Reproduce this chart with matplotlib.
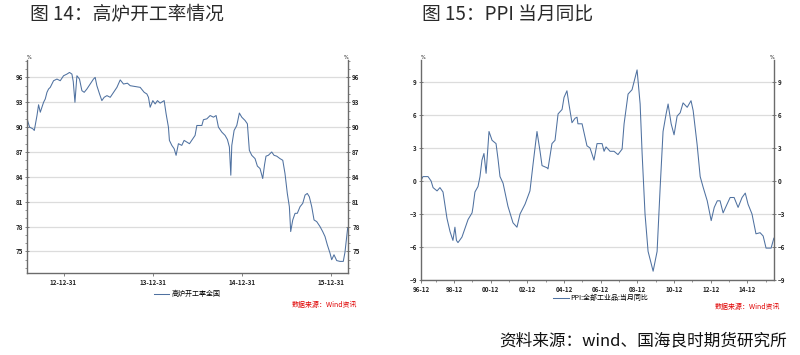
import matplotlib
matplotlib.use('Agg')
import matplotlib.pyplot as plt
from matplotlib.ticker import FixedLocator, MultipleLocator

plt.rcParams['font.family'] = ['Noto Sans CJK SC', 'DejaVu Sans']

# ---------------- data: blast furnace utilisation (weekly, decimal year) ----------------
bf_year = [2012.590, 2012.596, 2012.619, 2012.655, 2012.672, 2012.702, 2012.720, 2012.739,
           2012.758, 2012.776, 2012.795, 2012.814, 2012.832, 2012.851, 2012.888, 2012.926,
           2012.963, 2013.000, 2013.038, 2013.067, 2013.094, 2013.109, 2013.128, 2013.150,
           2013.179, 2013.206, 2013.232, 2013.262, 2013.299, 2013.336, 2013.355, 2013.374,
           2013.404, 2013.430, 2013.456, 2013.487, 2013.524, 2013.561, 2013.599, 2013.636,
           2013.673, 2013.717, 2013.748, 2013.804, 2013.860, 2013.905, 2013.935, 2013.953,
           2013.972, 2014.002, 2014.028, 2014.054, 2014.084, 2014.129, 2014.151, 2014.177,
           2014.188, 2014.215, 2014.241, 2014.263, 2014.289, 2014.327, 2014.353, 2014.383,
           2014.413, 2014.451, 2014.476, 2014.496, 2014.552, 2014.570, 2014.608, 2014.645,
           2014.682, 2014.712, 2014.738, 2014.776, 2014.813, 2014.839, 2014.861, 2014.877,
           2014.888, 2014.914, 2014.944, 2014.973, 2015.000, 2015.037, 2015.063, 2015.085,
           2015.112, 2015.149, 2015.175, 2015.205, 2015.235, 2015.256, 2015.272, 2015.298,
           2015.336, 2015.362, 2015.392, 2015.429, 2015.460, 2015.485, 2015.511, 2015.534,
           2015.549, 2015.572, 2015.598, 2015.623, 2015.654, 2015.684, 2015.710, 2015.735,
           2015.758, 2015.785, 2015.811, 2015.841, 2015.878, 2015.908, 2015.934, 2015.960,
           2015.990, 2016.009, 2016.035, 2016.065, 2016.102, 2016.139, 2016.158, 2016.177,
           2016.188]
bf_value = [92.0, 90.8, 90.0, 89.8, 89.6, 91.4, 92.7, 91.8,
            92.4, 93.0, 93.4, 94.2, 94.6, 94.8, 95.6, 95.8,
            95.6, 96.2, 96.4, 96.6, 96.4, 95.5, 93.0, 96.2,
            95.8, 94.4, 94.2, 94.6, 95.2, 95.8, 96.0, 95.0,
            94.0, 93.2, 93.6, 93.8, 93.6, 94.2, 94.8, 95.7,
            95.2, 95.3, 95.0, 94.9, 94.8, 94.2, 94.0, 93.6,
            92.4, 93.2, 92.8, 93.2, 92.9, 93.2, 91.6, 90.0,
            88.4, 87.8, 87.4, 86.6, 88.0, 87.8, 88.4, 88.2,
            88.0, 88.6, 89.0, 90.2, 90.2, 90.9, 91.0, 91.4,
            91.2, 91.4, 90.0, 89.4, 89.0, 88.5, 87.6, 84.2,
            87.8, 89.6, 90.2, 91.7, 91.2, 90.8, 90.4, 87.2,
            86.6, 86.2, 85.3, 85.0, 83.8, 85.5, 86.5, 86.6,
            87.0, 86.6, 86.5, 86.2, 86.0, 84.4, 82.0, 80.4,
            77.4, 78.8, 79.6, 79.6, 80.4, 80.8, 81.8, 82.0,
            81.6, 80.4, 78.8, 78.6, 78.0, 77.4, 76.8, 75.8,
            74.8, 74.0, 74.6, 73.9, 73.8, 73.8, 74.9, 76.7,
            77.8]
bf_xticks = [2013.0, 2014.0, 2015.0, 2016.0]
bf_xlabels = ['12-12-31', '13-12-31', '14-12-31', '15-12-31']
bf_yticks = [75, 78, 81, 84, 87, 90, 93, 96]
bf_legend = '高炉开工率全国'

# ---------------- data: PPI yoy (months since 1996-12) ----------------
ppi_month = [2.2, 3.7, 5.0, 7.0, 9.0, 10.3, 12.9, 14.8, 16.8, 18.1, 19.4, 21.4, 23.3, 24.6,
             25.6, 26.6, 29.2, 31.2, 33.2, 35.8, 36.4, 37.7, 39.7, 41.0, 42.3, 43.6, 45.0,
             46.9, 48.9, 51.5, 52.8, 54.1, 56.1, 59.3, 62.6, 65.2, 67.2, 70.5, 73.7, 75.7,
             78.3, 80.3, 81.6, 84.9, 85.5, 88.1, 90.1, 92.1, 94.7, 96.0, 97.9, 99.2, 101.2,
             103.2, 104.5, 105.1, 107.8, 111.0, 113.0, 115.6, 117.6, 120.9, 122.2, 123.5,
             124.8, 126.1, 128.7, 131.3, 134.0, 135.3, 137.9, 140.5, 143.8, 145.8, 147.1,
             149.0, 151.0, 154.3, 156.9, 158.9, 160.8, 162.8, 164.1, 166.1, 168.0, 170.0,
             172.0, 173.9, 176.6, 179.1, 180.5, 183.1, 185.1, 187.1, 189.7, 192.3, 194.3,
             196.3, 198.1, 200.1, 202.7, 204.7, 207.3, 209.9, 212.5, 214.6, 216.4, 219.0,
             221.6, 224.3, 226.3, 228.2, 231.5, 233.3]
ppi_value = [0.0, 0.4, 0.4, 0.4, 0.0, -0.6, -0.9, -0.6, -1.0, -2.2, -3.4, -4.6, -5.4, -4.2,
             -5.4, -5.6, -5.1, -4.3, -3.5, -2.9, -2.4, -1.0, -0.5, 0.4, 1.9, 2.5, 0.7,
             4.5, 3.7, 3.4, 2.0, 0.4, -0.2, -2.3, -3.8, -4.2, -3.0, -2.1, -0.9, 1.5,
             4.5, 2.7, 1.4, 1.2, 1.1, 3.4, 3.7, 6.1, 6.5, 7.6, 8.2, 7.0, 5.3,
             5.7, 5.8, 5.2, 5.2, 3.2, 3.0, 1.9, 3.4, 3.4, 2.7, 3.1,
             2.9, 2.7, 2.7, 2.4, 2.9, 5.2, 7.9, 8.3, 10.1, 7.0, 2.5,
             -3.0, -6.4, -8.2, -6.4, -0.6, 4.5, 6.1, 7.0, 5.2, 4.2, 5.9,
             6.2, 7.1, 6.7, 7.3, 6.4, 3.3, 0.4, -0.6, -1.8, -3.6, -2.4,
             -1.8, -1.8, -2.9, -2.1, -1.5, -1.5, -2.4, -1.5, -1.1, -2.1, -3.0,
             -4.8, -4.7, -5.0, -6.1, -6.1, -5.2]
ppi_xticks = [2.4, 24, 48, 72, 96, 120, 144, 168, 192, 216]
ppi_xlabels = ['96-12', '98-12', '00-12', '02-12', '04-12', '06-12', '08-12', '10-12',
               '12-12', '14-12']
ppi_yticks = [-9, -6, -3, 0, 3, 6, 9]
ppi_legend = 'PPI:全部工业品:当月同比'

LINE = '#4f71a0'
SPINE = '#6b6b6b'
GRID = '#dcdcdc'

fig = plt.figure(figsize=(8, 3.55), dpi=100)

def style(ax, yticks, minor=None):
    ax.spines['top'].set_visible(False)
    for s in ['left', 'right', 'bottom']:
        ax.spines[s].set_color(SPINE)
        ax.spines[s].set_linewidth(1.0)
    ax.yaxis.set_major_locator(FixedLocator(yticks))
    if minor:
        ax.yaxis.set_minor_locator(MultipleLocator(minor))
    ax.grid(axis='y', color=GRID, linewidth=0.9)
    ax.set_axisbelow(True)
    ax.tick_params(axis='y', which='major', left=True, right=True, labelleft=True,
                   labelright=True, direction='inout', length=3, width=0.6,
                   color=SPINE, labelsize=4.5, pad=1.5)
    ax.tick_params(axis='y', which='minor', left=True, right=True, direction='out',
                   length=1.5, width=0.5, color=SPINE)
    ax.tick_params(axis='x', which='major', direction='out', length=2.5, width=0.6,
                   color=SPINE, labelsize=4.5, pad=2)
    ax.tick_params(axis='x', which='minor', direction='out', length=1.5, width=0.5,
                   color=SPINE)
    for lab in ax.get_xticklabels() + ax.get_yticklabels():
        lab.set_fontweight('bold')
        lab.set_color('#222222')

# ---------------- left chart ----------------
ax1 = fig.add_axes([27 / 800, 1 - 273 / 355, 321 / 800, 213 / 355])
ax1.plot(bf_year, bf_value, color=LINE, linewidth=0.75, label=bf_legend)
ax1.set_xlim(2012.59, 2016.192)
ax1.set_ylim(72.4, 98.1)
ax1.set_xticks(bf_xticks)
ax1.set_xticklabels(bf_xlabels)
style(ax1, bf_yticks, minor=1)
ax1.text(0.0, 1.0, '%', transform=ax1.transAxes, fontsize=3.5, ha='left', va='bottom',
         family='DejaVu Sans')
ax1.text(1.0, 1.0, '%', transform=ax1.transAxes, fontsize=3.5, ha='right', va='bottom',
         family='DejaVu Sans')
ax1.legend(loc='center', bbox_to_anchor=(187 / 800, 1 - 294 / 355),
           bbox_transform=fig.transFigure, frameon=False, fontsize=5,
           handlelength=2.2, handletextpad=0.3)

# ---------------- right chart ----------------
ax2 = fig.add_axes([421 / 800, 1 - 280 / 355, 353 / 800, 220 / 355])
ax2.plot(ppi_month, ppi_value, color=LINE, linewidth=0.75, label=ppi_legend)
ax2.set_xlim(2.4, 233.4)
ax2.set_ylim(-9, 11)
ax2.set_xticks(ppi_xticks)
ax2.set_xticklabels(ppi_xlabels)
ax2.xaxis.set_minor_locator(FixedLocator([12 + 24 * i for i in range(10)]))
style(ax2, ppi_yticks)
ax2.text(0.0, 1.0, '%', transform=ax2.transAxes, fontsize=3.5, ha='left', va='bottom',
         family='DejaVu Sans')
ax2.text(1.0, 1.0, '%', transform=ax2.transAxes, fontsize=3.5, ha='right', va='bottom',
         family='DejaVu Sans')
ax2.legend(loc='center', bbox_to_anchor=(601 / 800, 1 - 298 / 355),
           bbox_transform=fig.transFigure, frameon=False, fontsize=5,
           handlelength=2.2, handletextpad=0.3)

# ---------------- texts ----------------
fig.text(30 / 800, 1 - 15 / 355, '图 14：高炉开工率情况', fontsize=13.5, va='center',
         ha='left', color='#2a2a2a')
fig.text(422 / 800, 1 - 15 / 355, '图 15：PPI 当月同比', fontsize=13.5, va='center',
         ha='left', color='#2a2a2a')
fig.text(357 / 800, 1 - 305 / 355, '数据来源：Wind资讯', fontsize=5, color='#e00000',
         style='italic', ha='right', va='center')
fig.text(780 / 800, 1 - 307 / 355, '数据来源：Wind资讯', fontsize=5, color='#e00000',
         style='italic', ha='right', va='center')
fig.text(787 / 800, 1 - 341 / 355, '资料来源：wind、国海良时期货研究所', fontsize=12,
         ha='right', va='center', color='#111111')

fig.savefig('out.png', dpi=100)
